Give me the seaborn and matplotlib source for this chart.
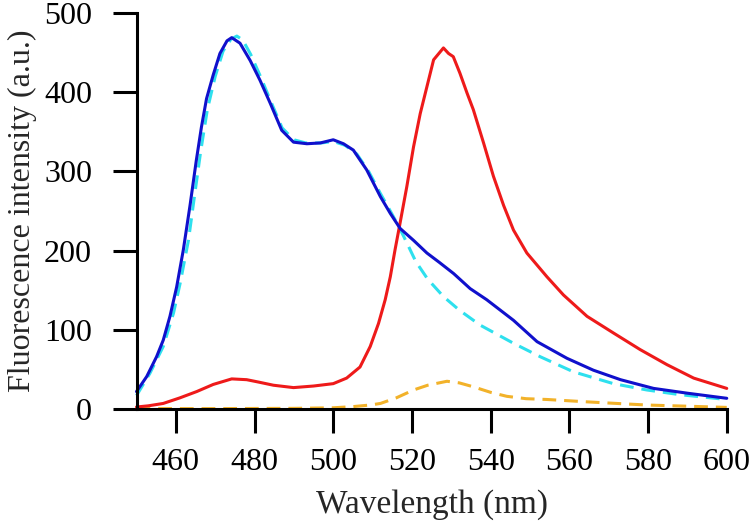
import matplotlib
matplotlib.use("Agg")
import matplotlib.pyplot as plt
import seaborn as sns

# ---- data ----
blue_x = [450, 452.6, 455.1, 456.8, 458.5, 460.2, 461.9, 463.6, 465.2, 466.5, 467.8, 469.5, 471.2,
          473, 474.2, 476.3, 478.9, 481.4, 484, 486.9, 489.9, 493.3, 496.7, 500, 502.6, 505.1,
          508.5, 512, 514.5, 517, 520.4, 523.8, 527, 530.6, 534.8, 539, 545.8, 551.8, 559.4,
          566.1, 573, 581.4, 589.9, 600]
blue_y = [22, 41, 66, 87, 117, 154, 201, 257, 314, 356, 392, 422, 449,
          465, 469, 462, 440, 415, 386, 352, 337, 335, 336, 340, 335, 327,
          302, 268, 247, 228, 213, 197, 185, 171, 152, 138, 112, 85, 64,
          49, 37, 26, 20, 13.5]

cyan_x = [450, 453.4, 456.8, 459.4, 461.1, 463.2, 464.6, 466.3, 468, 470, 472, 474, 475.5, 477,
          479, 481.5, 484, 487, 490, 493, 497, 500, 503, 506, 509, 512, 514.5, 516.5, 518, 521,
          524, 528, 532, 537.3, 545.8, 552.6, 561, 571.2, 579.7, 588.2, 600]
cyan_y = [17, 45, 79, 121, 159, 213, 264, 325, 378, 420, 452, 467, 471, 466,
          448, 420, 390, 355, 340, 336, 336, 338, 333, 322, 300, 272, 250, 232, 217, 186,
          164, 142, 125, 106, 83, 66, 47, 32, 24, 18, 12]

red_x = [450, 453, 456.8, 461, 465.3, 469.5, 474.2, 478, 481, 484.8, 489.9, 495, 500, 503.4,
         506.8, 509.4, 511.5, 513.2, 514.5, 515.7, 516.8, 518.7, 520.4, 522.1, 523.8, 525.5,
         528, 529.3, 530.5, 532.2, 534, 535.6, 538.2, 540.7, 543.3, 545.8, 549.2, 554.3, 558.5,
         564.5, 571.2, 578, 584.8, 591.6, 600]
red_y = [2.5, 4, 7, 14, 22, 31, 38, 37, 34, 30, 27, 29, 32, 39,
         53, 79, 108, 138, 167, 201, 230, 281, 331, 373, 407, 441,
         456, 449, 445, 424, 399, 378, 336, 294, 257, 226, 197, 167, 144,
         117, 96, 75, 56, 39, 26]

orange_x = [450, 470, 490, 500, 505, 509.4, 512, 516, 520.4, 524, 528.9, 532, 535.6, 540, 544.1,
            549, 554.3, 564.5, 572, 579.7, 590, 600]
orange_y = [0.5, 0.5, 0.8, 1.5, 3, 5, 7, 14, 24, 30, 35, 33, 28, 21, 16,
            13, 12, 9, 7, 5, 3.5, 2]

x_ticks = [460, 480, 500, 520, 540, 560, 580, 600]
y_ticks = [0, 100, 200, 300, 400, 500]

# ---- plot ----
sns.set_style("ticks")
plt.rcParams["font.family"] = ["Liberation Serif", "DejaVu Serif"]

fig = plt.figure(figsize=(7.5, 5.24), dpi=100)
ax = fig.add_axes([0.182, 0.2195, 0.787, 0.7555])

lw = 2.2
dash = (0, (4.5, 2.6))
sns.lineplot(x=orange_x, y=orange_y, ax=ax, color="#F2B22A", lw=lw, estimator=None, sort=False,
             linestyle=dash)
sns.lineplot(x=cyan_x, y=cyan_y, ax=ax, color="#2EE0EE", lw=lw, estimator=None, sort=False,
             linestyle=dash)
sns.lineplot(x=red_x, y=red_y, ax=ax, color="#EE1A1A", lw=lw, estimator=None, sort=False)
sns.lineplot(x=blue_x, y=blue_y, ax=ax, color="#1010CC", lw=lw, estimator=None, sort=False)

for ln in ax.lines:
    ln.set_clip_on(False)

ax.set_xlim(450, 600)
ax.set_ylim(0, 500)
ax.set_xticks(x_ticks)
ax.set_yticks(y_ticks)
sns.despine(ax=ax)
for s in ["left", "bottom"]:
    ax.spines[s].set_linewidth(2.2)
    ax.spines[s].set_color("black")
ax.tick_params(axis="both", direction="out", length=17, width=2.2, labelsize=23, colors="black")
ax.tick_params(axis="y", pad=15)
ax.tick_params(axis="x", pad=11)

ax.set_xlabel("Wavelength (nm)", fontsize=24, labelpad=9)
ax.set_ylabel("Fluorescence intensity (a.u.)", fontsize=23, labelpad=5)

fig.savefig("out.png", dpi=100)
